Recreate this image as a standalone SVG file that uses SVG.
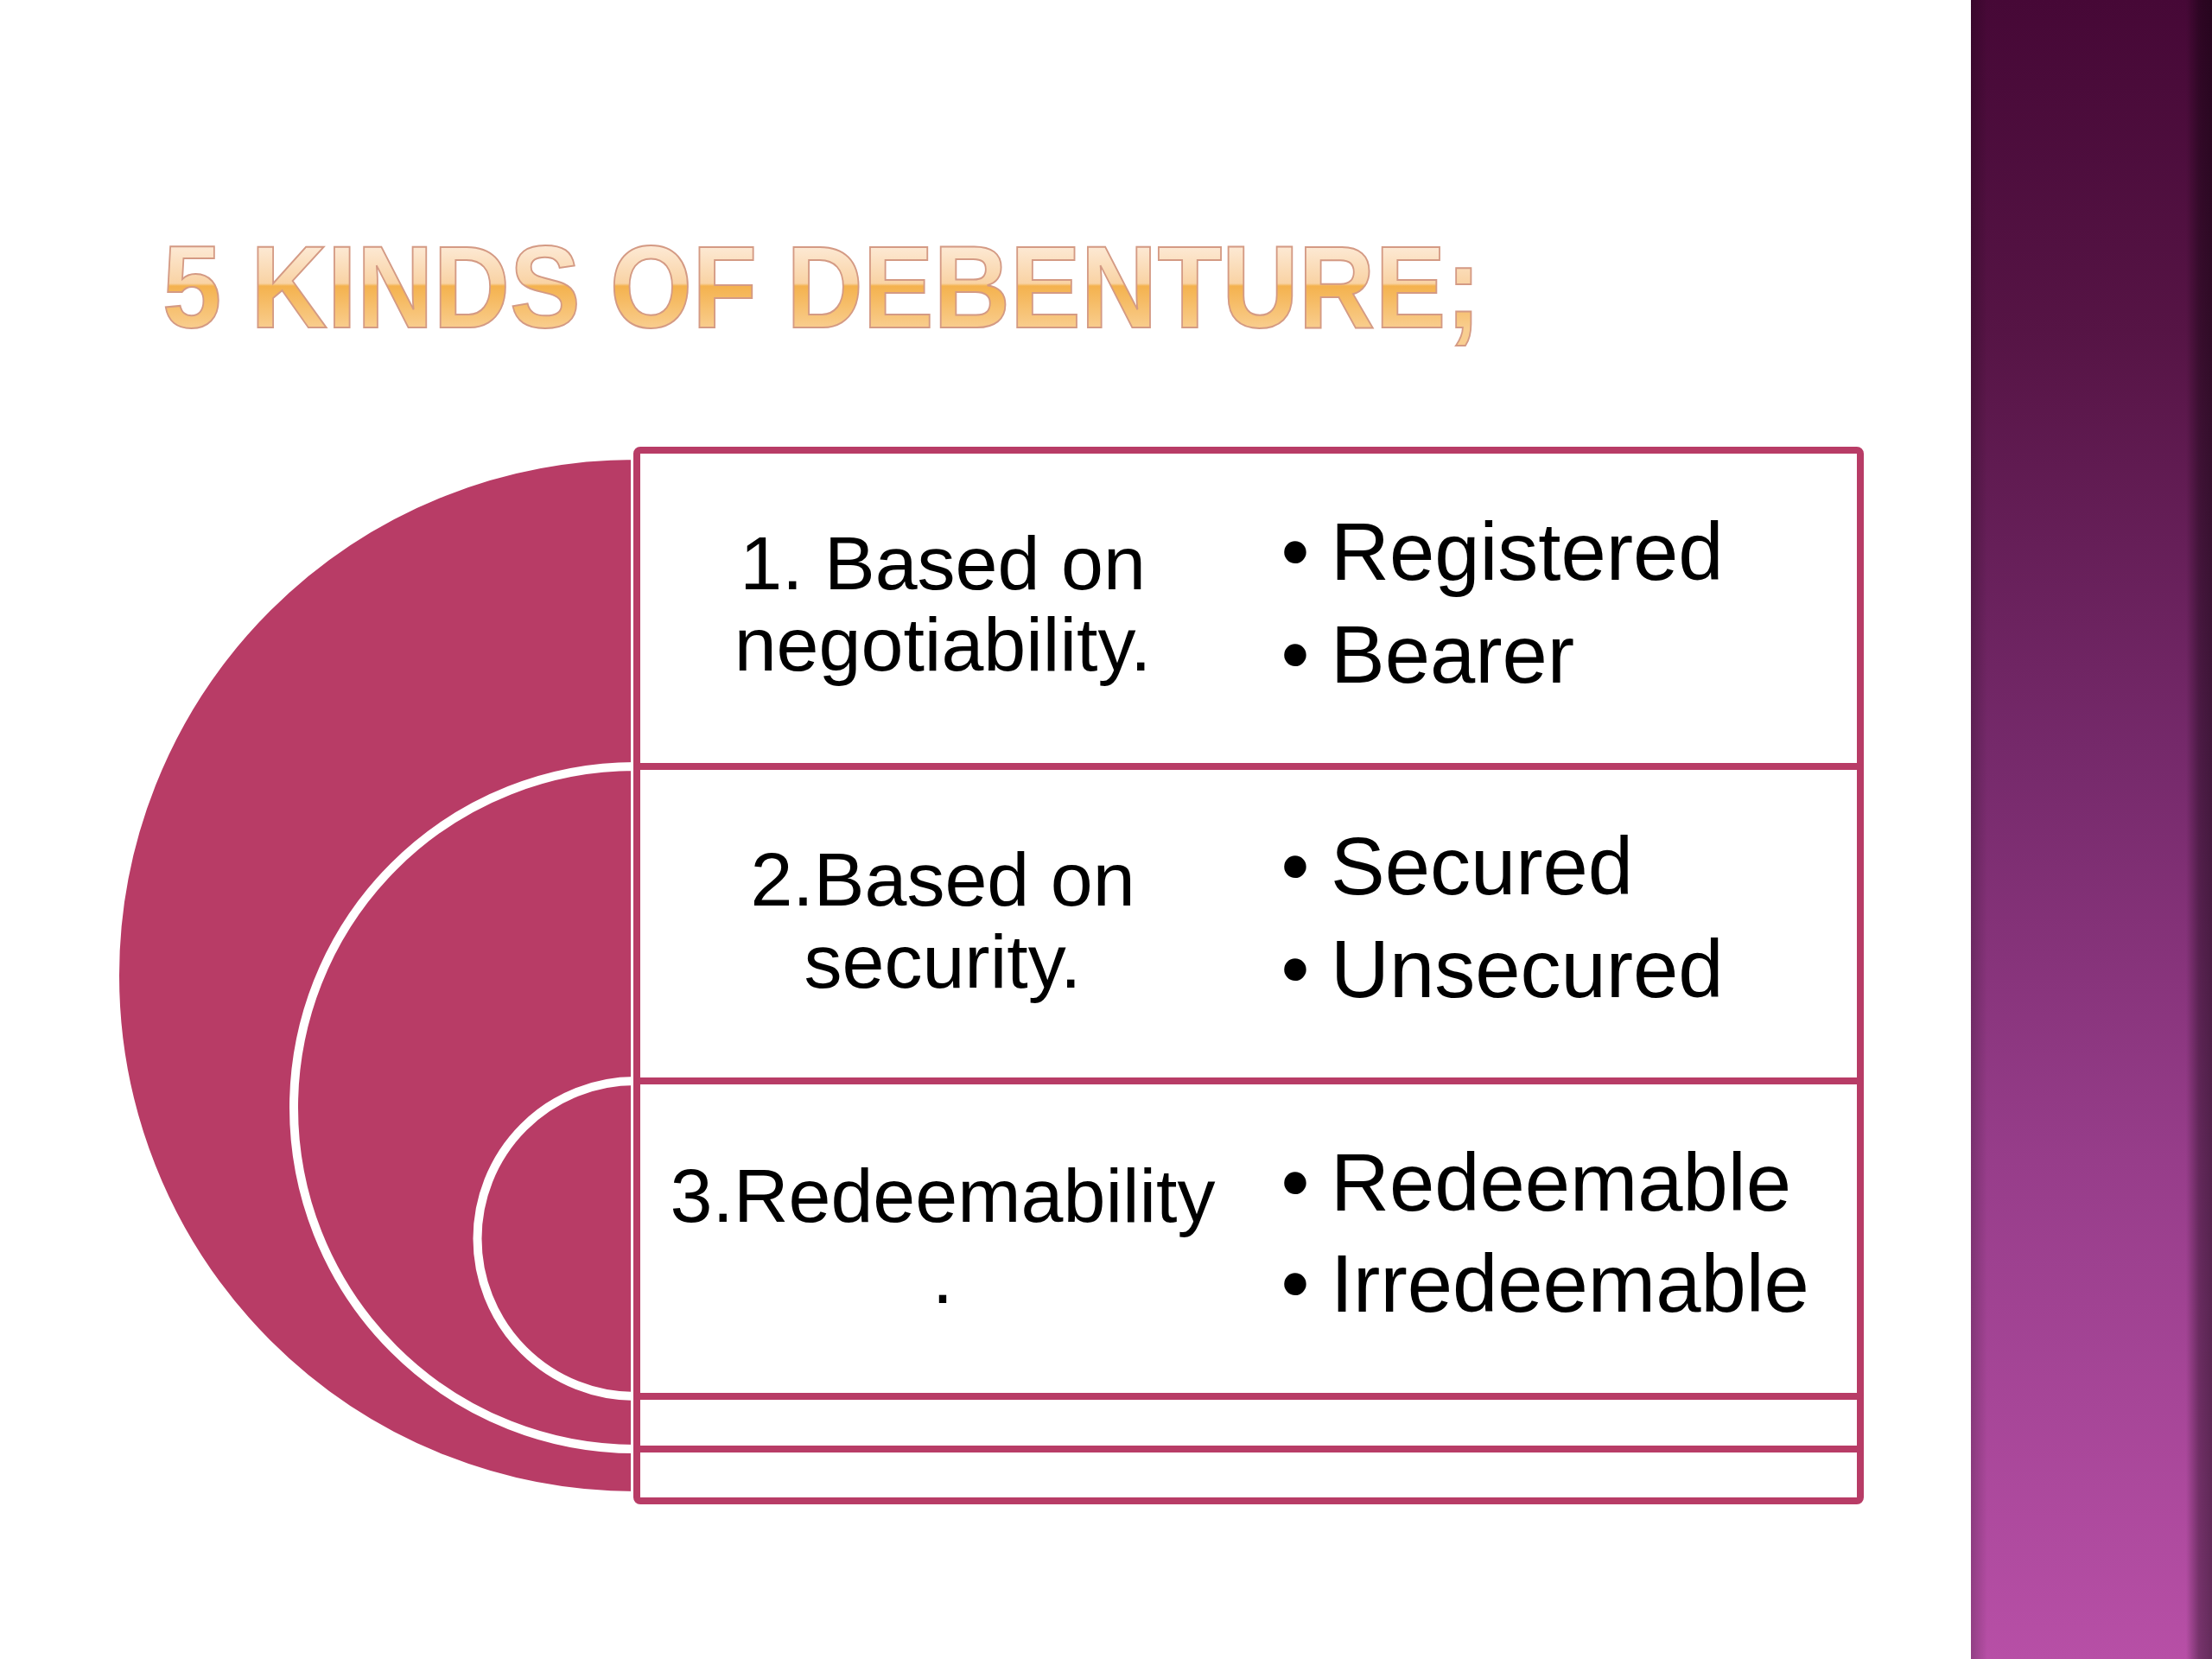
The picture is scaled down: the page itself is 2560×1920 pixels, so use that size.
<svg xmlns="http://www.w3.org/2000/svg" width="2560" height="1920" viewBox="0 0 2560 1920">
<defs>
<linearGradient id="band" x1="0" y1="0" x2="0" y2="1920" gradientUnits="userSpaceOnUse">
<stop offset="0" stop-color="#460836"/>
<stop offset="0.2" stop-color="#561445"/>
<stop offset="0.45" stop-color="#75296A"/>
<stop offset="0.7" stop-color="#973D8A"/>
<stop offset="1" stop-color="#B74FA6"/>
</linearGradient>
<linearGradient id="edge" x1="2530" y1="0" x2="2560" y2="0" gradientUnits="userSpaceOnUse">
<stop offset="0" stop-color="#000" stop-opacity="0"/>
<stop offset="0.5" stop-color="#000" stop-opacity="0.35"/>
<stop offset="1" stop-color="#000" stop-opacity="0.45"/>
</linearGradient>
<linearGradient id="ledge" x1="2281" y1="0" x2="2300" y2="0" gradientUnits="userSpaceOnUse">
<stop offset="0" stop-color="#000" stop-opacity="0.2"/>
<stop offset="1" stop-color="#000" stop-opacity="0"/>
</linearGradient>
<linearGradient id="tgrad" x1="0" y1="281" x2="0" y2="381" gradientUnits="userSpaceOnUse">
<stop offset="0" stop-color="#FDEBD9"/>
<stop offset="0.47" stop-color="#F9D3A4"/>
<stop offset="0.5" stop-color="#F4B24E"/>
<stop offset="1" stop-color="#F9CE90"/>
</linearGradient>
<style>
.disk{fill:#B83C66;stroke:#FFFFFF;stroke-width:10}
.box{fill:#FFFFFF;stroke:#B83C66;stroke-width:8}
.lt{font-family:"Liberation Sans",Arial,sans-serif;font-size:88px;fill:#000;text-anchor:middle}
.rt{font-family:"Liberation Sans",Arial,sans-serif;font-size:94px;fill:#000}
.bl{font-family:"Liberation Sans",Arial,sans-serif;font-size:94px;fill:#000;text-anchor:middle}
</style>
</defs>
<rect width="2560" height="1920" fill="#FFFFFF"/>
<g id="side-band">
<rect x="2281" y="0" width="279" height="1920" fill="url(#band)"/>
<rect x="2281" y="0" width="20" height="1920" fill="url(#ledge)"/>
<rect x="2530" y="0" width="30" height="1920" fill="url(#edge)"/>
</g>
<g id="title">
<text x="188" y="379" textLength="1526" lengthAdjust="spacingAndGlyphs" font-family="'Liberation Sans',Arial,sans-serif" font-weight="bold" font-size="136" fill="url(#tgrad)" stroke="#D49A84" stroke-width="2">5 KINDS OF DEBENTURE;</text>
</g>
<g id="arcs">
<path class="disk" d="M735,527 A602,602 0 0 0 735,1731 Z"/>
<path class="disk" d="M735,887 A395,395 0 0 0 735,1677 Z"/>
<path class="disk" d="M735,1251 A182.5,182.5 0 0 0 735,1616 Z"/>
</g>
<g id="node1">
<rect class="box" x="737" y="521" width="1416" height="1216" rx="4"/>
<text class="lt" x="1091" y="682">1. Based on</text>
<text class="lt" x="1091" y="776">negotiability.</text>
<text class="bl" x="1499" y="671">•</text>
<text class="rt" x="1540" y="671">Registered</text>
<text class="bl" x="1499" y="790">•</text>
<text class="rt" x="1540" y="790">Bearer</text>
</g>
<g id="node2">
<rect class="box" x="737" y="887" width="1416" height="790" rx="4"/>
<text class="lt" x="1091" y="1048">2.Based on</text>
<text class="lt" x="1091" y="1143">security.</text>
<text class="bl" x="1499" y="1035">•</text>
<text class="rt" x="1540" y="1035">Secured</text>
<text class="bl" x="1499" y="1154">•</text>
<text class="rt" x="1540" y="1154">Unsecured</text>
</g>
<g id="node3">
<rect class="box" x="737" y="1251" width="1416" height="365" rx="4"/>
<text class="lt" x="1091" y="1414">3.Redeemability</text>
<text class="lt" x="1091" y="1508">.</text>
<text class="bl" x="1499" y="1401">•</text>
<text class="rt" x="1540" y="1401">Redeemable</text>
<text class="bl" x="1499" y="1518">•</text>
<text class="rt" x="1540" y="1518">Irredeemable</text>
</g>
</svg>
